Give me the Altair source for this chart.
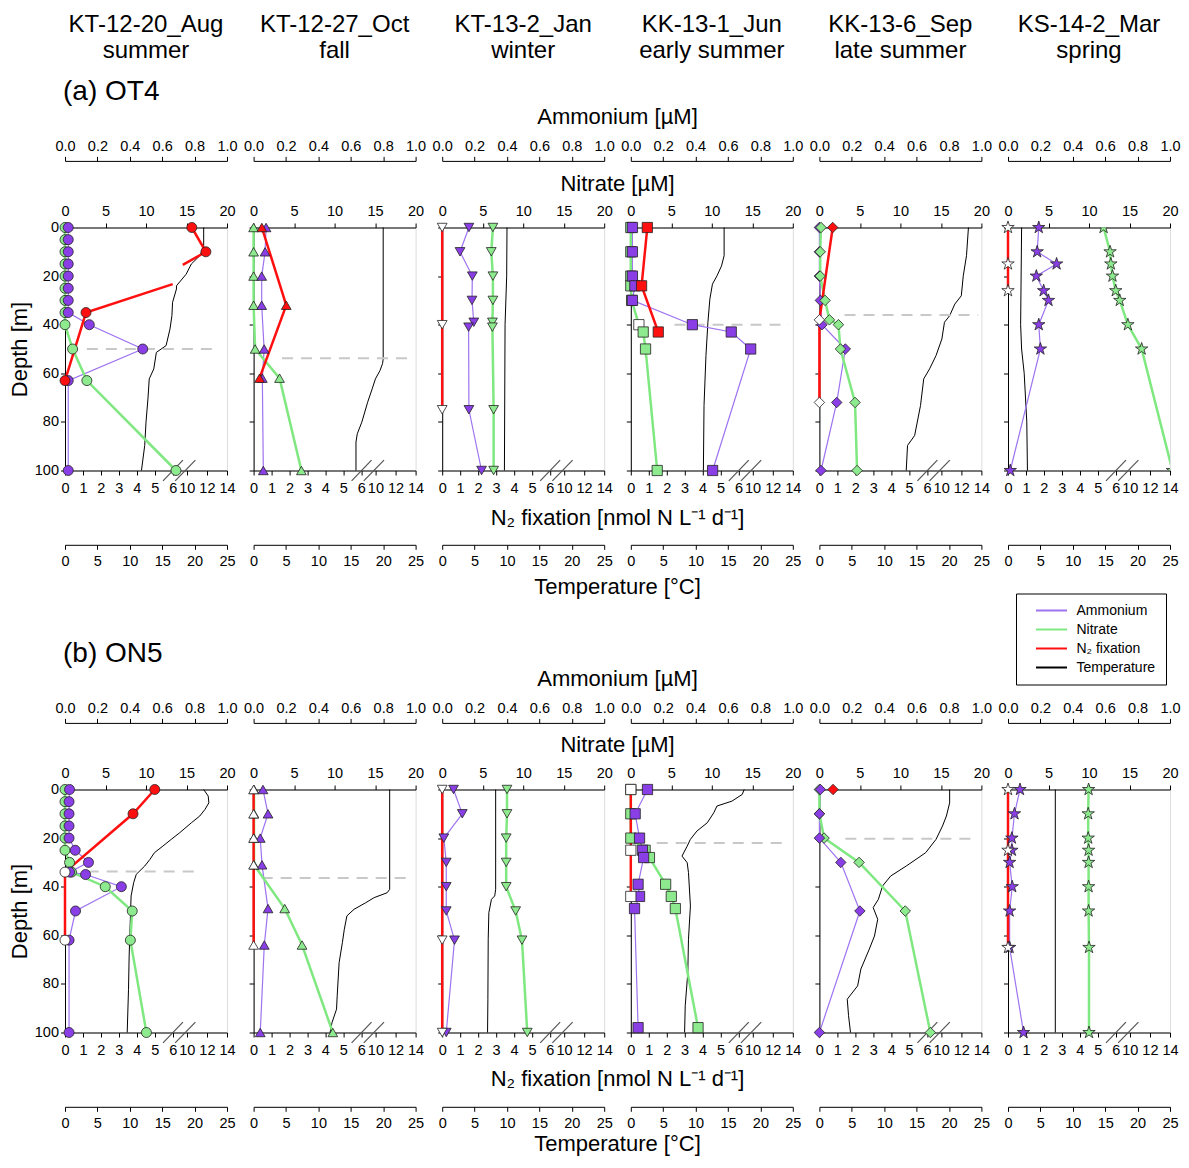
import altair as alt
import pandas as pd

FONT = "Liberation Sans"
W, H = 162, 243

HEADERS = ["KT-12-20_Aug\nsummer", "KT-12-27_Oct\nfall", "KT-13-2_Jan\nwinter",
           "KK-13-1_Jun\nearly summer", "KK-13-6_Sep\nlate summer", "KS-14-2_Mar\nspring"]
ROW_LABELS = ["(a) OT4", "(b) ON5"]
VAR_NAMES = ["Ammonium", "Nitrate", "N₂ fixation", "Temperature"]
AXIS_TITLES = ["Ammonium [µM]", "Nitrate [µM]", "N₂ fixation [nmol N L⁻¹ d⁻¹]", "Temperature [°C]"]

AMM_TICKS = [0.0, 0.2, 0.4, 0.6, 0.8, 1.0]
NIT_TICKS = [0, 5, 10, 15, 20]
N2_TICKS = [0, 1, 2, 3, 4, 5, 6, 10, 12, 14]
TMP_TICKS = [0, 5, 10, 15, 20, 25]
DEPTH_TICKS = [0, 20, 40, 60, 80, 100]

# ---------------- (a) OT4 ----------------
a1_amm = [(0, 0.02), (5, 0.02), (10, 0.02), (15, 0.02), (20, 0.02), (25, 0.02), (30, 0.02),
          (35, 0.02), (40, 0.15), (50, 0.48), (63, 0.02), (100, 0.02)]
a1_nit = [(0, 0), (5, 0), (10, 0), (15, 0), (20, 0), (25, 0), (30, 0), (35, 0), (40, 0),
          (50, 0.94), (63, 2.7), (100, 13.7)]
a1_n2 = [(0, 10.5), (10, 11.9), (35, 1.17), (63, 0)]
a1_n2_line = [[(0, 10.5), (10, 11.9), (15.4, 9.6)], [(23.3, 6.0), (35, 1.17), (63, 0)]]
a1_temp = [(0, 21.4), (8.2, 21.4), (11.6, 20.8), (15, 19.5), (19.2, 18.7), (24, 17.2), (25.3, 17.2),
           (30.8, 16.6), (36.3, 16.5), (41.8, 16.2), (48.6, 15.6), (51.4, 14.1), (58.2, 13.7),
           (62.3, 13.0), (70.5, 12.8), (80.1, 12.5), (89.7, 12.3), (100, 11.8)]
a1_mld = (50, 2.7, 19.0)

a2_amm = [(0, 0.077), (10, 0.071), (20, 0.05), (32, 0.05), (50, 0.065), (62, 0.054), (100, 0.06)]
a2_nit = [(0, 0), (10, 0), (20, 0), (32, 0), (50, 0.19), (62, 3.2), (100, 5.9)]
a2_n2 = [(0, 0.46), (32, 1.82), (62, 0.33)]
a2_temp = [(0, 20.0), (54, 20.0), (56, 19.9), (58.9, 19.5), (62.3, 18.8), (66.4, 18.3), (71.9, 17.6),
           (80.1, 16.7), (84.9, 16.0), (88.3, 15.8), (100, 15.8)]
a2_mld = (53.8, 3.5, 19.8)

a3_amm = [(0, 0.165), (10, 0.11), (20, 0.186), (30, 0.184), (39, 0.195), (41, 0.163), (75, 0.165), (100, 0.243)]
a3_nit = [(0, 6.26), (10, 6.06), (20, 6.26), (30, 6.26), (39, 6.2), (41, 6.2), (75, 6.35), (100, 6.35)]
a3_n2 = [(0, 0), (40, 0), (75, 0)]
a3_n2_bdl = [0, 40, 75]
a3_temp = [(0, 10.0), (20, 9.95), (40, 9.7), (100, 9.6)]

a4_amm = [(0, 0.01), (10, 0.01), (20, 0.01), (24, 0.025), (30, 0.01), (40, 0.38), (43, 0.62), (50, 0.74), (100, 0.505)]
a4_nit = [(0, 0), (10, 0), (20, 0), (24, 0), (30, 0.1), (40, 1.0), (43, 1.53), (50, 1.82), (100, 3.26)]
a4_nit_bdl = [40]
a4_n2 = [(0, 0.92), (24, 0.6), (43, 1.53)]
a4_temp = [(0, 14.4), (11.6, 14.4), (15.8, 14.0), (19.9, 13.3), (23.3, 12.6), (29.5, 12.2), (39, 11.9),
           (52.7, 11.6), (73.3, 11.3), (100, 11.2)]
a4_mld = (40, 5.4, 19.5)

a5_amm = [(0, 0.0), (10, 0.0), (20, 0.0), (30, 0.006), (40, 0.016), (50, 0.16), (72, 0.107), (100, 0.01)]
a5_nit = [(0, 0.2), (10, 0.1), (20, 0.1), (30, 0.7), (38, 1.24), (40, 2.35), (50, 2.6), (72, 4.4), (100, 4.65)]
a5_n2 = [(0, 0.74), (38, 0), (72, 0)]
a5_n2_bdl = [38, 72]
a5_temp = [(0, 23.0), (11.6, 22.7), (19.9, 22.2), (28.1, 21.9), (31.5, 20.9), (36.3, 20.1), (39, 19.3),
           (45.9, 18.9), (52.7, 18.0), (58.2, 17.0), (62.3, 16.1), (73.3, 15.6), (85.6, 14.7),
           (89.7, 13.6), (100, 13.4)]
a5_mld = (36, 3.1, 19.6)

a6_amm = [(0, 0.19), (10, 0.18), (15, 0.30), (20, 0.175), (26, 0.22), (30, 0.25), (40, 0.19), (50, 0.20), (100, 0.014)]
a6_nit = [(0, 11.8), (10, 12.6), (15, 12.7), (20, 12.9), (26, 13.3), (30, 13.8), (40, 14.8), (50, 16.5), (100, 20.3)]
a6_n2 = [(0, 0), (15, 0), (26, 0)]
a6_n2_bdl = [0, 15, 26]
a6_temp = [(0, 2.1), (40, 1.95), (50, 2.1), (60, 2.5), (80, 2.9), (100, 3.0)]

# ---------------- (b) ON5 ----------------
b1_amm = [(0, 0.028), (5, 0.025), (10, 0.025), (15, 0.025), (20, 0.025), (25, 0.063), (30, 0.145),
          (34, 0.028), (35, 0.127), (40, 0.348), (50, 0.065), (62, 0.025), (100, 0.025)]
b1_nit = [(0, 0), (5, 0), (10, 0), (15, 0), (20, 0), (25, 0), (30, 0.56), (34, 0.8), (40, 4.97),
          (50, 8.3), (62, 8.07), (100, 10.05)]
b1_n2 = [(0, 5.0), (10, 3.79), (34, 0), (62, 0)]
b1_n2_bdl = [34, 62]
b1_temp = [(0, 21.4), (2.7, 22.1), (5.5, 22.2), (8.2, 21.6), (10.9, 20.8), (13.7, 19.5), (17.8, 17.7),
           (20.5, 16.4), (23.3, 15.1), (26, 13.8), (28.8, 13.1), (31.5, 12.3), (34.9, 11.0),
           (38.3, 10.6), (43.8, 10.2), (52, 10.1), (68.5, 9.9), (82.2, 9.8), (100, 9.6)]
b1_mld = (33.7, 2.8, 16.6)

b2_amm = [(0, 0.058), (10, 0.089), (20, 0.041), (31, 0.052), (49, 0.089), (64, 0.066), (100, 0.041)]
b2_nit = [(0, 0.05), (10, 0.05), (20, 0.05), (31, 0.05), (49, 3.84), (64, 5.98), (100, 9.78)]
b2_n2 = [(0, 0), (10, 0), (20, 0), (31, 0), (64, 0)]
b2_n2_bdl = [0, 10, 20, 31, 64]
b2_temp = [(0, 21.0), (41.1, 21.0), (42.5, 20.6), (44.5, 18.6), (46.6, 17.3), (49.3, 15.5), (52, 14.4),
           (57.5, 14.0), (63, 13.7), (71.2, 13.2), (84.9, 12.9), (90.4, 12.8), (95.9, 12.1), (100, 11.8)]
b2_mld = (36.4, 1.0, 19.6)

b3_amm = [(0, 0.07), (10, 0.124), (20, 0.01), (30, 0.025), (40, 0.025), (50, 0.025), (62, 0.076), (100, 0.025)]
b3_nit = [(0, 8.0), (10, 8.0), (20, 7.9), (30, 7.9), (40, 7.9), (50, 9.07), (62, 9.85), (100, 10.5)]
b3_n2 = [(0, 0), (62, 0), (100, 0)]
b3_n2_bdl = [0, 62, 100]
b3_temp = [(0, 8.25), (41.1, 8.25), (43.8, 8.1), (45.2, 7.6), (50.7, 7.2), (61.6, 7.1), (86.3, 7.05), (100, 7.0)]

b4_amm = [(0, 0.103), (10, 0.027), (20, 0.054), (25, 0.072), (28, 0.079), (39, 0.045), (44, 0.054), (49, 0.023), (98, 0.045)]
b4_nit = [(0, 0), (10, 0), (20, 0), (25, 1.77), (28, 2.3), (39, 4.3), (44, 5.0), (49, 5.5), (98, 8.3)]
b4_n2 = [(0, 0), (25, 0), (44, 0)]
b4_n2_bdl = [0, 25, 44]
b4_temp = [(0, 17.5), (2, 17.2), (4.8, 15.6), (6.8, 13.3), (9.6, 12.8), (13.7, 11.8), (17.1, 10.2),
           (20.5, 9.2), (23.3, 8.7), (27.4, 7.9), (30.1, 8.7), (34.2, 8.9), (47.9, 9.2), (61.6, 8.9),
           (75.3, 8.8), (89, 8.4), (100, 8.3)]
b4_mld = (22, 3.2, 19.5)

b5_amm = [(0, 0.006), (10, 0.0), (20, 0.0), (30, 0.132), (50, 0.25), (100, 0.0)]
b5_nit = [(0, 0), (10, 0), (20, 0.58), (30, 4.9), (50, 10.6), (100, 13.7)]
b5_n2 = [(0, 0.76)]
b5_temp = [(0, 20.1), (5.5, 20.1), (10.9, 19.6), (15, 19.0), (20.5, 18.0), (26, 16.4), (31.5, 13.4),
           (35.6, 11.0), (39.7, 9.75), (45.2, 9.1), (48.6, 8.3), (53.4, 9.0), (60.3, 8.5), (65.7, 7.7),
           (73.9, 6.4), (80.8, 5.9), (86.3, 4.3), (93.1, 4.5), (100, 4.8)]
b5_mld = (20.3, 3.2, 19.5)

b6_amm = [(0, 0.074), (10, 0.04), (20, 0.024), (25, 0.024), (30, 0.01), (40, 0.026), (50, 0.01), (65, 0.01), (100, 0.096)]
b6_nit = [(0, 9.95), (10, 9.9), (20, 9.9), (25, 9.95), (30, 9.95), (40, 9.95), (50, 9.95), (65, 10.0), (100, 10.0)]
b6_n2 = [(0, 0), (25, 0), (65, 0)]
b6_n2_bdl = [0, 25, 65]
b6_temp = [(0, 7.3), (100, 7.3)]

PANELS = [
    [dict(amm=a1_amm, nit=a1_nit, n2=a1_n2, temp=a1_temp, mld=a1_mld, n2_line=a1_n2_line),
     dict(amm=a2_amm, nit=a2_nit, n2=a2_n2, temp=a2_temp, mld=a2_mld),
     dict(amm=a3_amm, nit=a3_nit, n2=a3_n2, temp=a3_temp, n2_bdl=a3_n2_bdl),
     dict(amm=a4_amm, nit=a4_nit, n2=a4_n2, temp=a4_temp, mld=a4_mld, nit_bdl=a4_nit_bdl),
     dict(amm=a5_amm, nit=a5_nit, n2=a5_n2, temp=a5_temp, mld=a5_mld, n2_bdl=a5_n2_bdl, nit_top=True),
     dict(amm=a6_amm, nit=a6_nit, n2=a6_n2, temp=a6_temp, n2_bdl=a6_n2_bdl, clip_nit=True)],
    [dict(amm=b1_amm, nit=b1_nit, n2=b1_n2, temp=b1_temp, mld=b1_mld, n2_bdl=b1_n2_bdl),
     dict(amm=b2_amm, nit=b2_nit, n2=b2_n2, temp=b2_temp, mld=b2_mld, n2_bdl=b2_n2_bdl),
     dict(amm=b3_amm, nit=b3_nit, n2=b3_n2, temp=b3_temp, n2_bdl=b3_n2_bdl),
     dict(amm=b4_amm, nit=b4_nit, n2=b4_n2, temp=b4_temp, mld=b4_mld, n2_bdl=b4_n2_bdl),
     dict(amm=b5_amm, nit=b5_nit, n2=b5_n2, temp=b5_temp, mld=b5_mld),
     dict(amm=b6_amm, nit=b6_nit, n2=b6_n2, temp=b6_temp, n2_bdl=b6_n2_bdl)],
]

STAR = "M0,-1L0.2245,-0.309L0.951,-0.309L0.363,0.118L0.588,0.809L0,0.382L-0.588,0.809L-0.363,0.118L-0.951,-0.309L-0.2245,-0.309Z"
SHAPES = ["circle", "triangle-up", "triangle-down", "square", "diamond", STAR]
SIZES = [100, 95, 95, 105, 110, 170]

C_AMM_LINE, C_AMM_FILL = "#9E73F0", "#8A3FE6"
C_NIT_LINE, C_NIT_FILL = "#80E880", "#8EEA8E"
C_N2 = "#FF1010"
C_TMP = "#000000"

# ---------------- scales & axes ----------------
AMM_SC = alt.Scale(domain=[0, 1], nice=False, zero=False)
NIT_SC = alt.Scale(domain=[0, 20], nice=False, zero=False)
TMP_SC = alt.Scale(domain=[0, 25], nice=False, zero=False)
N2_SC = alt.Scale(domain=[0, 6, 8.6, 14], range=[0, 107.7, 107.7, W], nice=False, zero=False)
Y_SC = alt.Scale(domain=[0, 100], reverse=True, nice=False, zero=False)

LBL = dict(labelFontSize=14.5, labelFont=FONT, labelColor="black", labelFlush=False,
           labelOverlap=False, tickSize=4.5, tickColor="black", domainColor="black", grid=False, title=None)
AMM_AX = alt.Axis(orient="top", offset=66.6, values=AMM_TICKS, format=".1f", labelPadding=3, **LBL)
NIT_AX = alt.Axis(orient="top", offset=0, values=NIT_TICKS, format="d", labelPadding=5, **LBL)
N2_AX = alt.Axis(orient="bottom", offset=0, values=N2_TICKS, format="d", labelPadding=6, **LBL)
TMP_AX = alt.Axis(orient="bottom", offset=74.3, values=TMP_TICKS, format="d", labelPadding=5, **LBL)
Y_AX0 = alt.Axis(values=DEPTH_TICKS, title="Depth [m]", titleFontSize=22, titleFont=FONT,
                 titleFontWeight="normal", titleColor="black", labelFontSize=14.5, labelFont=FONT,
                 labelColor="black", tickSize=4.5, labelPadding=2, titlePadding=2.6, grid=False,
                 domainColor="black", tickColor="black")
Y_AXN = alt.Axis(values=DEPTH_TICKS, labels=False, title=None, tickSize=4.5, grid=False,
                 domainColor="black", tickColor="black")

LEG = alt.Legend(title=None, orient="none", legendX=951, legendY=366, direction="vertical",
                 symbolType="M-3.1,0H3.1", symbolSize=100, symbolStrokeWidth=2, symbolOffset=18.5,
                 labelOffset=18, labelFontSize=14, labelFont=FONT, labelColor="black", padding=10,
                 rowPadding=5, strokeColor="black", fillColor="white", cornerRadius=0)
COLOR = alt.Color("var:N", scale=alt.Scale(domain=VAR_NAMES, range=[C_AMM_LINE, C_NIT_LINE, C_N2, C_TMP]),
                  legend=LEG)

TITLE_Y = [[-110.5, -43.5, 290.5, 359.5], [-110.5, -44.5, 289.5, 354.0]]


def ptdf(pairs, bdl=(), var="", seg=0):
    return pd.DataFrame({"depth": [p[0] for p in pairs], "value": [p[1] for p in pairs],
                         "bdl": [p[0] in bdl for p in pairs], "var": var, "seg": seg})


def text_layer(txt, x, y, size, align="center", baseline="middle", line_h=26):
    return alt.Chart(pd.DataFrame({"t": [txt]})).mark_text(
        fontSize=size, font=FONT, align=align, baseline=baseline, lineBreak="\n",
        lineHeight=line_h, color="black").encode(text="t:N", x=alt.value(x), y=alt.value(y))


def panel(r, c, P):
    yax = Y_AX0 if c == 0 else Y_AXN

    def Y():
        return alt.Y("depth:Q", scale=Y_SC, axis=yax)

    shape, size = SHAPES[c], SIZES[c]
    L = []
    # temperature profile
    L.append(alt.Chart(ptdf(P["temp"], var="Temperature")).mark_line(strokeWidth=1).encode(
        x=alt.X("value:Q", scale=TMP_SC, axis=TMP_AX), y=Y(), order="depth:Q", color=COLOR))
    # mixed layer depth
    if P.get("mld"):
        d, x1, x2 = P["mld"]
        L.append(alt.Chart(pd.DataFrame({"depth": [d], "x1": [x1], "x2": [x2]})).mark_rule(
            color="#C8C8C8", strokeWidth=2, strokeDash=[11, 8]).encode(
            x=alt.X("x1:Q", scale=NIT_SC, axis=None), x2="x2:Q", y=Y()))
    # axis break marks on the N2 axis
    brk = pd.DataFrame({"a": [0.605, 0.68], "b": [0.728, 0.805], "depth": [104.3, 104.3], "d2": [95.7, 95.7]})
    L.append(alt.Chart(brk).mark_rule(color="#555555", strokeWidth=1.2).encode(
        x=alt.X("a:Q", scale=AMM_SC, axis=None), x2="b:Q", y=Y(), y2="d2:Q"))
    # lines
    amm_line = alt.Chart(ptdf(P["amm"], var="Ammonium")).mark_line(strokeWidth=1.2).encode(
        x=alt.X("value:Q", scale=AMM_SC, axis=AMM_AX), y=Y(), order="depth:Q", color=COLOR)
    nit_line = alt.Chart(ptdf(P["nit"], var="Nitrate")).mark_line(strokeWidth=2.5, clip=bool(P.get("clip_nit"))).encode(
        x=alt.X("value:Q", scale=NIT_SC, axis=NIT_AX), y=Y(), order="depth:Q", color=COLOR)
    if P.get("n2_line"):
        n2l = pd.concat([ptdf(s, var="N₂ fixation", seg=i) for i, s in enumerate(P["n2_line"])])
    else:
        n2l = ptdf(P["n2"], var="N₂ fixation")
    n2_line = alt.Chart(n2l).mark_line(strokeWidth=2.5).encode(
        x=alt.X("value:Q", scale=N2_SC, axis=N2_AX), y=Y(), order="depth:Q", color=COLOR, detail="seg:N")
    L += [amm_line, nit_line, n2_line]

    def pts(pairs, bdl, scale, fill, clip=False):
        return alt.Chart(ptdf(pairs, bdl)).mark_point(
            shape=shape, size=size, filled=True, opacity=1, stroke="#222222", strokeWidth=0.8, clip=clip).encode(
            x=alt.X("value:Q", scale=scale, axis=None), y=Y(),
            fill=alt.condition("datum.bdl", alt.value("white"), alt.value(fill)))

    nit_p = pts(P["nit"], P.get("nit_bdl", []), NIT_SC, C_NIT_FILL, bool(P.get("clip_nit")))
    amm_p = pts(P["amm"], [], AMM_SC, C_AMM_FILL)
    n2_p = pts(P["n2"], P.get("n2_bdl", []), N2_SC, C_N2)
    L += ([amm_p, nit_p] if P.get("nit_top") else [nit_p, amm_p]) + [n2_p]

    # annotations
    if r == 0:
        L.append(text_layer(HEADERS[c], W / 2, -196, 24, baseline="alphabetic"))
    if c == 0:
        L.append(text_layer(ROW_LABELS[r], -2, -135.5, 28, align="left"))
    if c == 2:
        xm = W + 13.3
        for txt, yy in zip(AXIS_TITLES, TITLE_Y[r]):
            L.append(text_layer(txt, xm, yy, 22))

    return alt.layer(*L).resolve_scale(x="independent").properties(width=W, height=H)


panels = [panel(r, c, PANELS[r][c]) for r in range(2) for c in range(6)]
chart = alt.concat(*panels, columns=6, spacing={"row": 319, "column": 26.6}, bounds="flush").resolve_scale(
    color="shared").properties(padding={"left": 0, "top": 3.5, "right": 0, "bottom": 0}).configure_view(
    stroke="black", strokeWidth=1).configure(font=FONT)

chart.save("out.html", embed_options={"renderer": "svg", "actions": False})
